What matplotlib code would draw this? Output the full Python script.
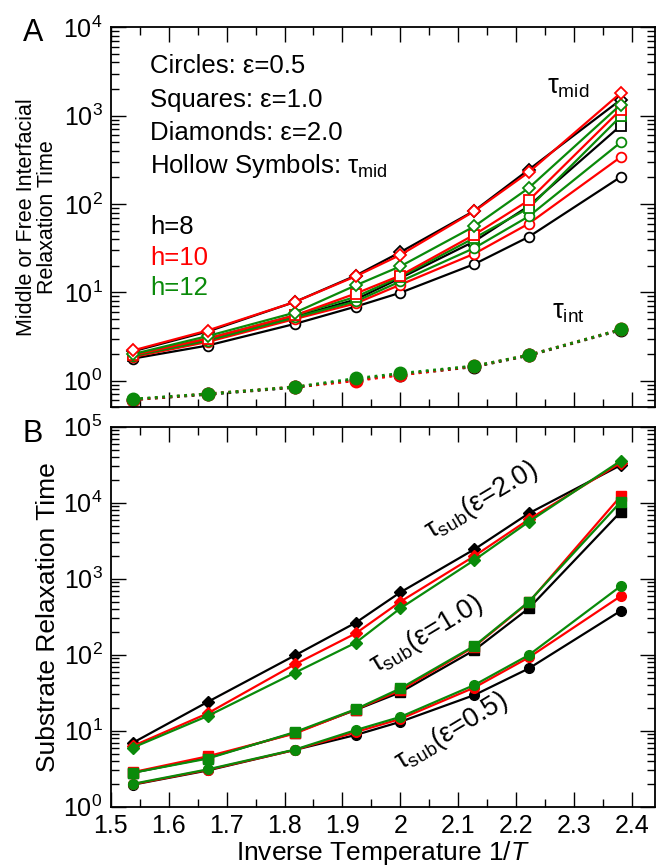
import matplotlib
matplotlib.use("Agg")
import matplotlib.pyplot as plt
from matplotlib.ticker import LogLocator, MultipleLocator, FormatStrFormatter, NullFormatter

plt.rcParams["font.family"] = ["Liberation Sans", "DejaVu Sans"]
plt.rcParams["mathtext.fontset"] = "custom"
plt.rcParams["mathtext.rm"] = "Liberation Sans"
plt.rcParams["mathtext.it"] = "Liberation Sans:italic"

# inverse temperatures (1/T)
x = [1.538, 1.667, 1.818, 1.923, 2.0, 2.128, 2.222, 2.381]

# panel A: tau_mid (hollow), keyed by epsilon then h
mid_circ_h8 = [1.78, 2.5, 4.4, 6.9, 9.9, 20.9, 42.5, 203]
mid_circ_h10 = [1.85, 2.75, 5.0, 7.5, 12.2, 27.4, 60, 341]
mid_circ_h12 = [1.9, 2.85, 5.2, 7.9, 13.3, 31.8, 72.6, 500]
mid_sq_h8 = [1.9, 2.9, 5.3, 8.3, 14.5, 37.8, 95, 773]
mid_sq_h10 = [1.95, 3.0, 5.5, 9.7, 15.5, 45, 110, 1173]
mid_sq_h12 = [1.95, 3.0, 5.5, 8.9, 15.0, 41.3, 90, 985]
mid_dia_h8 = [2.15, 3.6, 7.8, 15.5, 28.5, 84, 245, 1516]
mid_dia_h10 = [2.2, 3.7, 7.8, 15.2, 26.5, 83, 229, 1812]
mid_dia_h12 = [2.0, 3.2, 5.9, 12.0, 19.7, 55.9, 152, 1336]

# panel A: tau_int (filled, dotted)
int_h8 = [0.61, 0.70, 0.84, 1.02, 1.17, 1.44, 1.93, 3.75]
int_h10 = [0.61, 0.71, 0.85, 1.00, 1.16, 1.46, 1.95, 3.80]
int_h12 = [0.62, 0.71, 0.85, 1.06, 1.21, 1.47, 1.95, 3.80]

# panel B: tau_sub (filled)
sub_circ_h8 = [1.95, 3.0, 5.6, 8.8, 13.1, 29.5, 66, 379]
sub_circ_h10 = [1.97, 3.05, 5.6, 9.6, 14.3, 37, 92, 592]
sub_circ_h12 = [2.0, 3.1, 5.65, 10.2, 15.2, 40, 99, 802]
sub_sq_h8 = [2.8, 4.4, 9.4, 18.8, 32, 115, 408, 7620]
sub_sq_h10 = [2.85, 4.6, 9.2, 19, 34, 128, 490, 12250]
sub_sq_h12 = [2.8, 4.3, 9.6, 19.2, 36, 131, 498, 10300]
sub_dia_h8 = [6.95, 23.9, 98, 264, 662, 2440, 7250, 31300]
sub_dia_h10 = [6.3, 16.9, 74.8, 191, 498, 1990, 6030, 33600]
sub_dia_h12 = [6.0, 15.6, 58, 144, 408, 1763, 5620, 35700]

BLACK, RED, GREEN = "black", "#ff0000", "#0a8a0a"
FS = 18


def style(ax, ylim):
    ax.set_xlim(1.5, 2.44)
    ax.set_yscale("log")
    ax.set_ylim(*ylim)
    ax.xaxis.set_major_locator(MultipleLocator(0.1))
    ax.xaxis.set_minor_locator(MultipleLocator(0.05))
    ax.yaxis.set_major_locator(LogLocator(base=10, numticks=10))
    ax.yaxis.set_minor_locator(LogLocator(base=10, subs=range(2, 10), numticks=20))
    ax.yaxis.set_minor_formatter(NullFormatter())
    ax.tick_params(which="both", direction="in", top=True, right=True, labelsize=FS)
    ax.tick_params(which="major", length=11, width=1.0)
    ax.tick_params(which="minor", length=6, width=1.0)
    ax.tick_params(axis="y", pad=6)
    ax.tick_params(axis="x", pad=5)
    for s in ax.spines.values():
        s.set_linewidth(1.3)


fig = plt.figure(figsize=(6.6, 8.67), dpi=100)
axA = fig.add_axes([0.168, 0.5302, 0.8244, 0.4383])
axB = fig.add_axes([0.168, 0.0695, 0.8244, 0.4383])

lw, ms, mew = 1.6, 7, 1.3
hollow = [
    (mid_circ_h8, "o", BLACK), (mid_sq_h8, "s", BLACK), (mid_dia_h8, "D", BLACK),
    (mid_circ_h10, "o", RED), (mid_circ_h12, "o", GREEN),
    (mid_sq_h12, "s", GREEN), (mid_sq_h10, "s", RED),
    (mid_dia_h12, "D", GREEN), (mid_dia_h10, "D", RED),
]
for ys, m, c in hollow:
    axA.plot(x, ys, "-", color=c, lw=lw, marker=m, ms=ms if m != "D" else 6,
             mfc="white", mec=c, mew=mew)
for ys, c in [(int_h8, BLACK), (int_h10, RED), (int_h12, GREEN)]:
    axA.plot(x, ys, ":", color=c, lw=2.0, marker="o", ms=9, mfc=c, mec=c)

style(axA, (0.5, 1e4))
axA.set_xticklabels([])
axA.set_ylabel("Middle or Free Interfacial\nRelaxation Time", fontsize=15.5, labelpad=4,
               linespacing=1.0)

TS = 18.5
tx = 0.072
for i, (t, c) in enumerate([("Circles: ε=0.5", BLACK), ("Squares: ε=1.0", BLACK),
                            ("Diamonds: ε=2.0", BLACK),
                            (r"Hollow Symbols: τ$_{\mathrm{mid}}$", BLACK)]):
    axA.text(tx, 0.898 - i * 0.088, t, color=c, fontsize=TS, transform=axA.transAxes,
             va="center")
for i, (t, c) in enumerate([("h=8", BLACK), ("h=10", RED), ("h=12", GREEN)]):
    axA.text(tx, 0.474 - i * 0.08, t, color=c, fontsize=TS, transform=axA.transAxes,
             va="center")
axA.text(2.29, 1500, r"τ$_{\mathrm{mid}}$", fontsize=TS + 1, ha="center", va="bottom")
axA.text(2.29, 4.3, r"τ$_{\mathrm{int}}$", fontsize=TS + 1, ha="center", va="bottom")
fig.text(0.05, 0.962, "A", fontsize=22, ha="center", va="center")

filled = [
    (sub_dia_h8, "D", BLACK), (sub_dia_h10, "D", RED), (sub_dia_h12, "D", GREEN),
    (sub_sq_h8, "s", BLACK), (sub_sq_h10, "s", RED), (sub_sq_h12, "s", GREEN),
    (sub_circ_h8, "o", BLACK), (sub_circ_h10, "o", RED), (sub_circ_h12, "o", GREEN),
]
for ys, m, c in filled:
    axB.plot(x, ys, "-", color=c, lw=lw, marker=m, ms=ms if m != "D" else 6.5,
             mfc=c, mec=c)

style(axB, (1, 1e5))
axB.xaxis.set_major_formatter(FormatStrFormatter("%g"))
axB.set_ylabel("Substrate Relaxation Time", fontsize=19, labelpad=2)
axB.set_xlabel(r"Inverse Temperature $\mathit{1/T}$", fontsize=19, labelpad=1)

for xx, yy, t in [(2.141, 10800, r"τ$_{\mathrm{sub}}$(ε=2.0)"),
                  (2.045, 185, r"τ$_{\mathrm{sub}}$(ε=1.0)"),
                  (2.088, 9.8, r"τ$_{\mathrm{sub}}$(ε=0.5)")]:
    axB.text(xx, yy, t, fontsize=TS + 1, rotation=31, ha="center", va="center",
             rotation_mode="anchor")
fig.text(0.05, 0.5, "B", fontsize=22, ha="center", va="center")

fig.savefig("out.png", dpi=100)
